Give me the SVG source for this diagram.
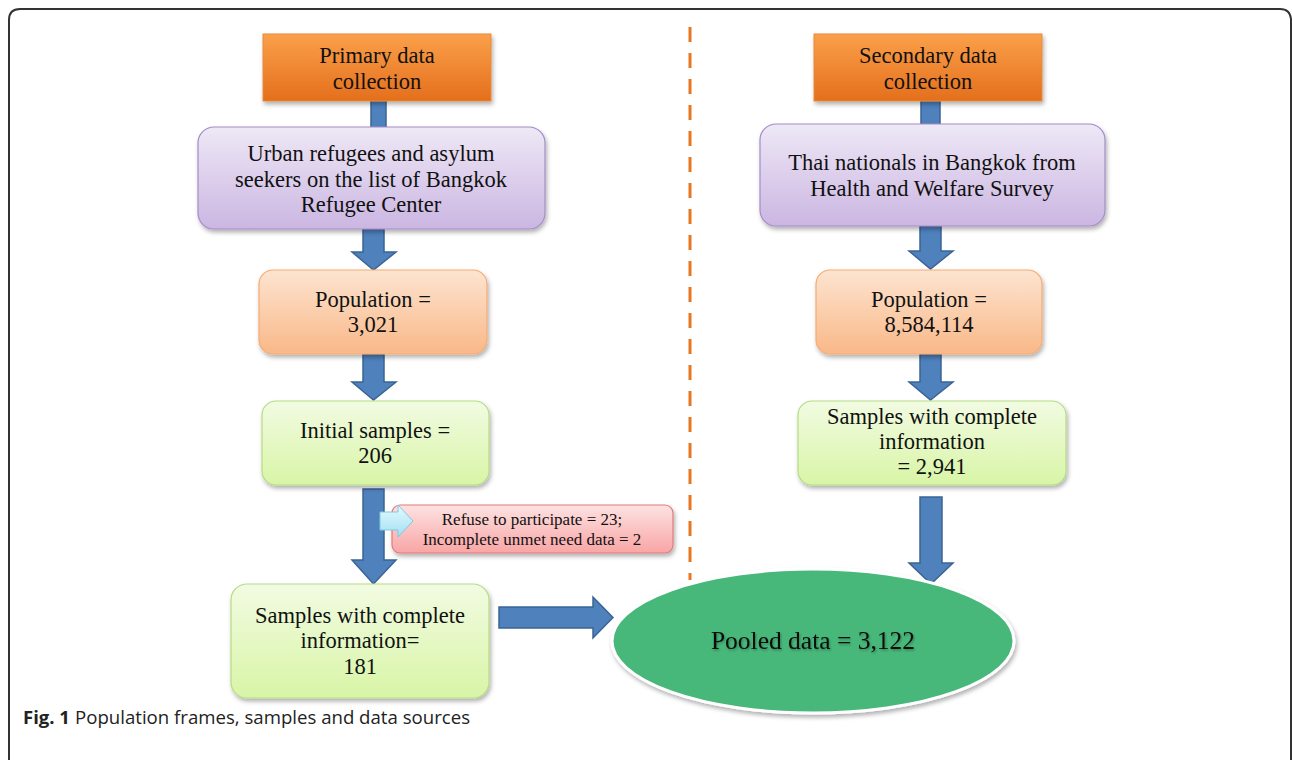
<svg xmlns="http://www.w3.org/2000/svg" width="1292" height="760" viewBox="0 0 1292 760">
<defs>
<linearGradient id="gOrange" x1="0" y1="0" x2="0" y2="1"><stop offset="0" stop-color="#fba04a"/><stop offset="1" stop-color="#e46f1c"/></linearGradient>
<linearGradient id="gPurple" x1="0" y1="0" x2="0" y2="1"><stop offset="0" stop-color="#eee8f6"/><stop offset="1" stop-color="#cbb6e2"/></linearGradient>
<linearGradient id="gPeach" x1="0" y1="0" x2="0" y2="1"><stop offset="0" stop-color="#fde4d0"/><stop offset="1" stop-color="#f9b888"/></linearGradient>
<linearGradient id="gGreen" x1="0" y1="0" x2="0" y2="1"><stop offset="0" stop-color="#f2fbe2"/><stop offset="1" stop-color="#d8f5a6"/></linearGradient>
<linearGradient id="gRed" x1="0" y1="0" x2="0" y2="1"><stop offset="0" stop-color="#fde2e2"/><stop offset="1" stop-color="#f9a5a5"/></linearGradient>
<linearGradient id="gCyan" x1="0" y1="0" x2="0" y2="1"><stop offset="0" stop-color="#e8fafe"/><stop offset="1" stop-color="#9fe0f3"/></linearGradient>
<filter id="sh" x="-10%" y="-10%" width="130%" height="140%"><feDropShadow dx="1.5" dy="3" stdDeviation="2" flood-color="#000" flood-opacity="0.3"/></filter>
<filter id="tsh" x="-5%" y="-20%" width="110%" height="150%"><feDropShadow dx="1" dy="1.5" stdDeviation="1.2" flood-color="#000" flood-opacity="0.3"/></filter>
</defs>
<style>
text{font-family:"Liberation Serif","DejaVu Serif",serif;font-size:22.5px;fill:#111;text-anchor:middle}
.small{font-size:17px}
.big{font-size:25.5px}
.cap{font-family:"Open Sans","Liberation Sans",sans-serif;font-size:18.5px;text-anchor:start;fill:#222}
.capb{font-weight:bold}
.arr{fill:#4f81bd;stroke:#3a6494;stroke-width:1.5}
.orange{fill:url(#gOrange);stroke:#e68a3c;stroke-width:1}
.purple{fill:url(#gPurple);stroke:#a48cc8;stroke-width:1.2}
.peach{fill:url(#gPeach);stroke:#f6ab72;stroke-width:1.2}
.green{fill:url(#gGreen);stroke:#b5dc84;stroke-width:1.2}
.red{fill:url(#gRed);stroke:#e27a7a;stroke-width:1.2}
</style>
<rect width="1292" height="760" fill="#fff"/>
<path d="M9 760 V20 Q9 9 20 9 H1280 Q1290 9 1291 19 V760" fill="none" stroke="#333" stroke-width="2"/>
<line x1="690" y1="27" x2="690" y2="580" stroke="#e87722" stroke-width="3" stroke-dasharray="15 11"/>

<g id="connectors">
<rect class="arr" x="371" y="100" width="15" height="29"/>
<path class="arr" d="M363 229 H384 V252 H396 L373.5 270 L352 252 H363 Z"/>
<path class="arr" d="M363 354 H384 V382 H396 L373.5 400 L352 382 H363 Z"/>
<path class="arr" d="M363 489 H384 V560 H396 L373.5 584 L352 560 H363 Z"/>
<path class="arr" d="M499 607 H593 V597 L613 617.5 L593 638 V628 H499 Z"/>
<rect class="arr" x="921" y="100" width="19" height="26"/>
<path class="arr" d="M920 226 H941 V251 H953 L930.5 269 L909 251 H920 Z"/>
<path class="arr" d="M920 354 H941 V382 H953 L930.5 400 L909 382 H920 Z"/>
<path class="arr" d="M920 497 H942 V563 H953 L931 584 L909 563 H920 Z"/>
</g>

<g id="primary">
<rect class="orange" x="263" y="34" width="228" height="67" filter="url(#sh)"/>
<text x="377" y="63">Primary data</text><text x="377" y="89">collection</text>
</g>
<g id="urban">
<rect class="purple" x="198" y="127" width="347" height="102" rx="16" filter="url(#sh)"/>
<text x="371" y="161">Urban refugees and asylum</text>
<text x="371" y="187">seekers on the list of Bangkok</text>
<text x="371" y="212">Refugee Center</text>
</g>
<g id="pop-left">
<rect class="peach" x="259" y="270" width="228" height="84" rx="14" filter="url(#sh)"/>
<text x="373" y="307">Population =</text><text x="373" y="332">3,021</text>
</g>
<g id="initial">
<rect class="green" x="262" y="401" width="227" height="84" rx="14" filter="url(#sh)"/>
<text x="375" y="438">Initial samples =</text><text x="375" y="463">206</text>
</g>
<g id="refuse">
<rect class="red" x="392" y="505" width="281" height="48" rx="8" filter="url(#sh)"/>
<text class="small" x="532" y="525">Refuse to participate = 23;</text>
<text class="small" x="532" y="545">Incomplete unmet need data = 2</text>
</g>
<g id="refuse-arrow">
<path d="M380 512 H398 V505 L413 521 L398 537 V530 H380 Z" fill="url(#gCyan)" stroke="#7fc9e0" stroke-width="1"/>
</g>
<g id="samples-left">
<rect class="green" x="231" y="584" width="258" height="114" rx="16" filter="url(#sh)"/>
<text x="360" y="623">Samples with complete</text>
<text x="360" y="648">information=</text>
<text x="360" y="674">181</text>
</g>
<g id="secondary">
<rect class="orange" x="814" y="34" width="228" height="67" filter="url(#sh)"/>
<text x="928" y="63">Secondary data</text><text x="928" y="89">collection</text>
</g>
<g id="thai">
<rect class="purple" x="760" y="124" width="345" height="102" rx="16" filter="url(#sh)"/>
<text x="932" y="170">Thai nationals in Bangkok from</text>
<text x="932" y="196">Health and  Welfare Survey</text>
</g>
<g id="pop-right">
<rect class="peach" x="816" y="270" width="226" height="84" rx="14" filter="url(#sh)"/>
<text x="929" y="307">Population =</text><text x="929" y="332">8,584,114</text>
</g>
<g id="samples-right">
<rect class="green" x="798" y="401" width="268" height="84" rx="14" filter="url(#sh)"/>
<text x="932" y="424">Samples with complete</text>
<text x="932" y="449">information</text>
<text x="932" y="474">= 2,941</text>
</g>
<g id="pooled">
<ellipse cx="813" cy="641" rx="201" ry="72" fill="#46b87a" stroke="#fff" stroke-width="3" filter="url(#sh)"/>
<text class="big" x="813" y="649" filter="url(#tsh)">Pooled data = 3,122</text>
</g>
<g id="caption">
<text class="cap capb" x="23" y="724">Fig. 1</text>
<text class="cap" x="75" y="724" textLength="395" lengthAdjust="spacingAndGlyphs">Population frames, samples and data sources</text>
</g>
</svg>
